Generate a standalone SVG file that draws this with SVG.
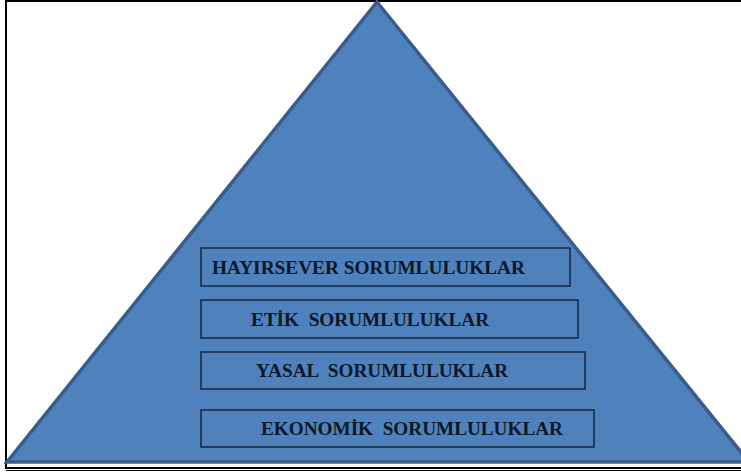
<svg xmlns="http://www.w3.org/2000/svg" width="741" height="472" viewBox="0 0 741 472">
<style>
.frame{fill:none;stroke:#000;stroke-width:2}
.tri{fill:#4F81BD;stroke:#385D8A;stroke-width:3.5;stroke-linejoin:miter}
.box{fill:none;stroke:#17263a;stroke-width:1.5}
.lbl{font-family:"Liberation Serif","Times New Roman",serif;font-weight:bold;font-size:18px;fill:#0d1826}
</style>
<rect x="0" y="0" width="741" height="472" fill="#fff"/>
<g id="frame">
<line class="frame" x1="6" y1="1" x2="741" y2="1"/>
<line class="frame" x1="6" y1="0" x2="6" y2="469"/>
<line class="frame" x1="6" y1="468" x2="741" y2="468"/>
<line x1="6" y1="470.5" x2="741" y2="470.5" stroke="#000" stroke-width="1"/>
</g>
<g id="pyramid">
<polygon class="tri" points="377,2 749,462 7,462"/>
</g>
<g id="hayirsever">
<rect class="box" x="201" y="248" width="369" height="38"/>
<text class="lbl" x="212" y="274" textLength="313" lengthAdjust="spacingAndGlyphs">HAYIRSEVER SORUMLULUKLAR</text>
</g>
<g id="etik">
<rect class="box" x="201" y="300" width="377" height="38"/>
<text class="lbl" x="251" y="326" textLength="238" lengthAdjust="spacingAndGlyphs" xml:space="preserve">ETİK  SORUMLULUKLAR</text>
</g>
<g id="yasal">
<rect class="box" x="201" y="352" width="384" height="37"/>
<text class="lbl" x="256" y="377" textLength="252" lengthAdjust="spacingAndGlyphs" xml:space="preserve">YASAL  SORUMLULUKLAR</text>
</g>
<g id="ekonomik">
<rect class="box" x="201" y="410" width="393" height="37"/>
<text class="lbl" x="261" y="435" textLength="302" lengthAdjust="spacingAndGlyphs" xml:space="preserve">EKONOMİK  SORUMLULUKLAR</text>
</g>
<g id="connectors"></g>
</svg>
